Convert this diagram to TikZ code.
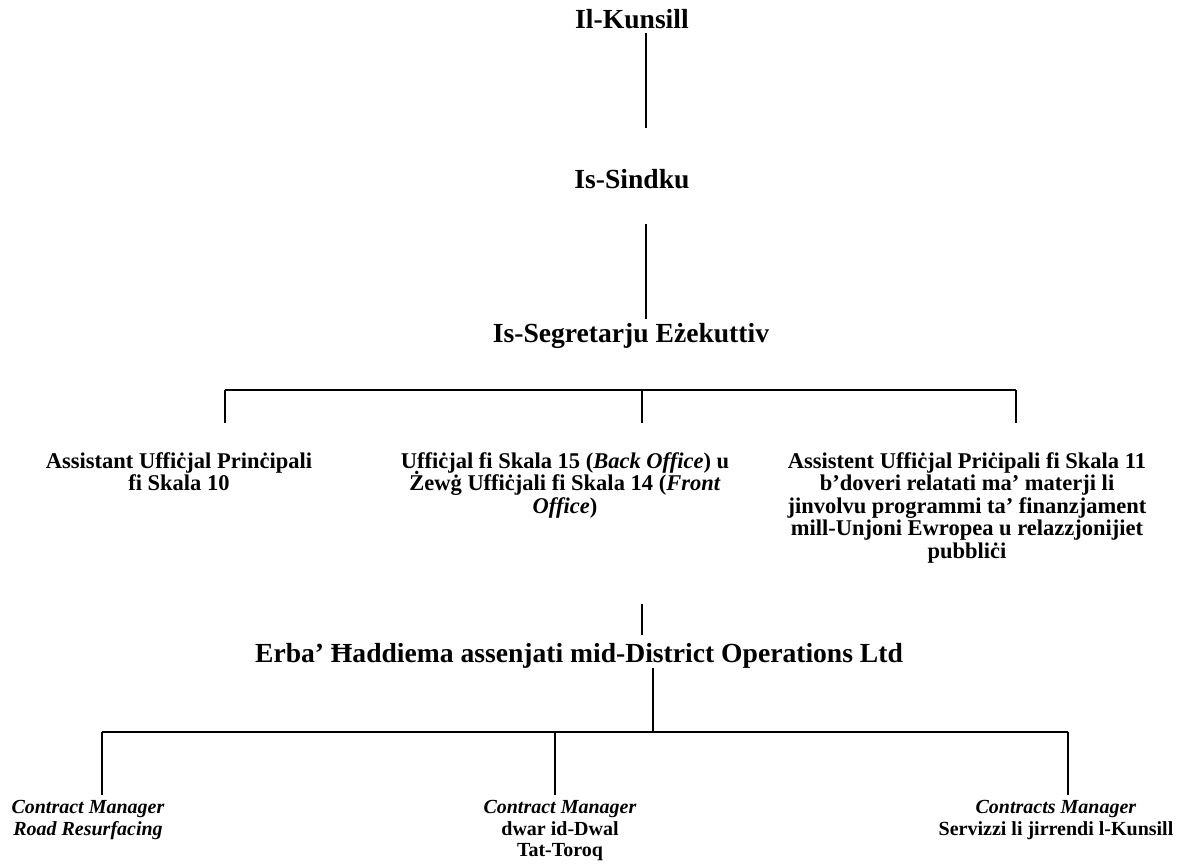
\documentclass[tikz,border=0pt]{standalone}
\usepackage{fontspec}
\setmainfont{Liberation Serif}
\usepackage{tikz}

\newcommand{\serre}{\lineskiplimit=-5pt\relax}

\tikzset{
    titre/.style={font=\fontsize{13.8}{15}\selectfont\bfseries, inner sep=0pt, anchor=base},
    poste/.style={font=\fontsize{11.25}{11.25}\selectfont\bfseries\serre, align=center, inner sep=0pt, anchor=north},
    contrat/.style={font=\fontsize{10}{10.75}\selectfont\bfseries\serre, align=center, inner sep=0pt, anchor=north},
    trait/.style={line width=1pt},
}

\begin{document}
\begin{tikzpicture}[x=0.5pt,y=-0.5pt]
    \useasboundingbox (0,0) rectangle (1180,867);

    % Niveaux du haut
    \node[titre] (kunsill) at (632,28) {Il-Kunsill};
    \node[titre] (sindku) at (632,188) {Is-Sindku};
    \node[titre] (segretarju) at (631,342) {Is-Segretarju Eżekuttiv};

    % Postes sous le segretarju
    \node[poste] (assistant) at (179,452) {Assistant Uffiċjal Prinċipali\\fi Skala 10};
    \node[poste] (ufficjal) at (565,452) {Uffiċjal fi Skala 15 (\textit{Back Office}) u\\Żewġ Uffiċjali fi Skala 14 (\textit{Front}\\\textit{Office})};
    \node[poste] (assistent) at (967,452) {Assistent Uffiċjal Priċipali fi Skala 11\\b’doveri relatati ma’ materji li\\jinvolvu programmi ta’ finanzjament\\mill-Unjoni Ewropea u relazzjonijiet\\pubbliċi};

    % Haddiema
    \node[titre] (haddiema) at (579,662) {Erba’ Ħaddiema assenjati mid-District Operations Ltd};

    % Contract managers
    \node[contrat] (road) at (88,800) {\textit{Contract Manager}\\\textit{Road Resurfacing}};
    \node[contrat] (dwal) at (560,800) {\textit{Contract Manager}\\dwar id-Dwal\\Tat-Toroq};
    \node[contrat] (servizzi) at (1056,800) {\textit{Contracts Manager}\\Servizzi li jirrendi l-Kunsill};

    % Liens verticaux
    \coordinate (kunsillB) at (646,33);
    \coordinate (sindkuH) at (646,128);
    \coordinate (sindkuB) at (646,224);
    \coordinate (segretarjuH) at (646,319);
    \draw[trait] (kunsillB) -- (sindkuH);
    \draw[trait] (sindkuB) -- (segretarjuH);

    % Barre des postes
    \coordinate (barreG) at (225,390);
    \coordinate (barreD) at (1016,390);
    \draw[trait] (barreG) -- (barreD);
    \foreach \x in {225,642,1016} {
        \draw[trait] (\x,390) -- (\x,423);
    }

    % Vers les haddiema
    \coordinate (haddiemaH) at (642,604);
    \coordinate (haddiemaS) at (642,635);
    \draw[trait] (haddiemaH) -- (haddiemaS);
    \coordinate (haddiemaB) at (653,668);
    \coordinate (barre2M) at (653,732);
    \draw[line width=0.6pt] (haddiemaB) -- (barre2M);

    % Barre des contract managers
    \coordinate (barre2G) at (102,732);
    \coordinate (barre2D) at (1068,732);
    \draw[line width=1.2pt] (barre2G) -- (barre2D);
    \foreach \x in {102,555,1068} {
        \draw[trait] (\x,732) -- (\x,795);
    }
\end{tikzpicture}
\end{document}
